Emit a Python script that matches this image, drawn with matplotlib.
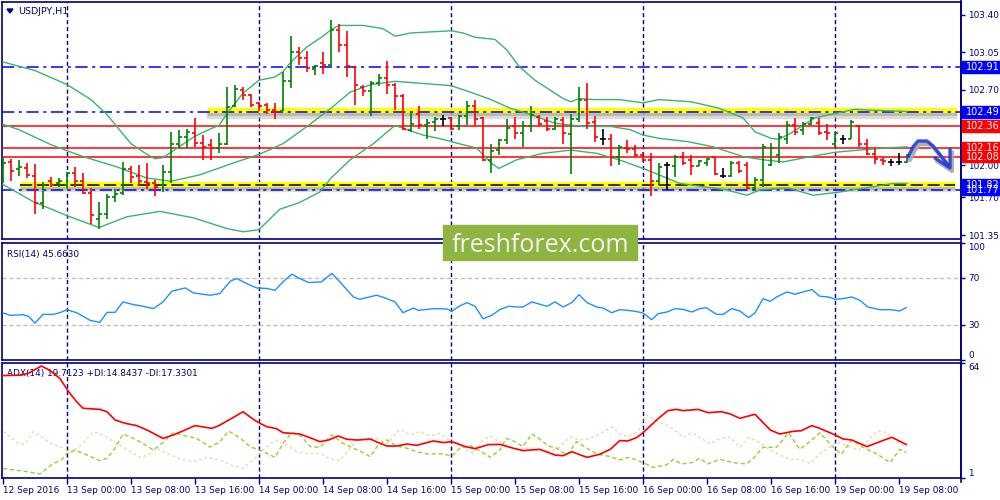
import matplotlib
matplotlib.use('Agg')
import matplotlib.pyplot as plt
from matplotlib.patches import Rectangle
from matplotlib.lines import Line2D
import numpy as np

# ---------------- data ----------------
bar_open = [101.95, 102.03, 101.96, 101.97, 101.90, 101.65, 101.85, 101.83, 101.82, 101.93,
            101.85, 101.74, 101.50, 101.55, 101.70, 101.74, 101.96, 101.90, 101.84, 101.83,
            101.82, 101.94, 102.20, 102.26, 102.30, 102.21, 102.19, 102.16, 102.20, 102.55,
            102.70, 102.65, 102.58, 102.56, 102.51, 102.50, 102.78, 103.05, 103.00, 102.89,
            102.95, 102.93, 103.26, 103.12, 102.91, 102.73, 102.69, 102.76, 102.81, 102.75,
            102.64, 102.33, 102.48, 102.37, 102.40, 102.43, 102.44, 102.36, 102.46, 102.55,
            102.44, 102.05, 102.14, 102.23, 102.36, 102.30, 102.36, 102.45, 102.41, 102.34,
            102.42, 102.29, 102.43, 102.61, 102.40, 102.24, 102.24, 102.08, 102.16, 102.15,
            102.09, 102.05, 101.85, 102.00, 101.99, 102.08, 102.05, 101.99, 102.02, 102.08,
            101.90, 101.90, 102.02, 102.00, 101.79, 101.86, 102.00, 102.09, 102.24, 102.37,
            102.33, 102.38, 102.39, 102.31, 102.20, 102.24, 102.24, 102.36, 102.20, 102.10,
            102.05, 102.03, 102.03, 102.03]
bar_high = [102.08, 102.06, 102.05, 102.02, 102.01, 101.84, 101.89, 101.88, 101.94, 101.98,
            101.93, 101.79, 101.66, 101.73, 101.78, 102.03, 101.99, 102.00, 102.02, 101.86,
            102.00, 102.31, 102.33, 102.34, 102.44, 102.28, 102.24, 102.30, 102.73, 102.75,
            102.73, 102.66, 102.59, 102.58, 102.58, 102.87, 103.20, 103.10, 103.06, 102.93,
            103.05, 103.35, 103.31, 103.25, 102.92, 102.75, 102.78, 102.85, 102.97, 102.76,
            102.66, 102.49, 102.55, 102.43, 102.45, 102.47, 102.45, 102.47, 102.60, 102.61,
            102.45, 102.20, 102.24, 102.43, 102.45, 102.41, 102.55, 102.47, 102.45, 102.45,
            102.45, 102.48, 102.73, 102.76, 102.46, 102.34, 102.29, 102.19, 102.23, 102.19,
            102.12, 102.11, 102.02, 102.03, 102.09, 102.12, 102.09, 102.05, 102.07, 102.08,
            101.97, 102.04, 102.04, 102.03, 101.89, 102.20, 102.21, 102.30, 102.41, 102.44,
            102.40, 102.45, 102.44, 102.38, 102.31, 102.28, 102.42, 102.37, 102.24, 102.16,
            102.08, 102.06, 102.11, 102.10]
bar_low = [101.83, 101.85, 101.90, 101.88, 101.55, 101.59, 101.80, 101.80, 101.79, 101.80,
           101.73, 101.45, 101.41, 101.50, 101.66, 101.72, 101.83, 101.82, 101.78, 101.71,
           101.75, 101.83, 102.16, 102.16, 102.17, 102.05, 102.05, 102.11, 102.19, 102.54,
           102.61, 102.54, 102.50, 102.48, 102.43, 102.50, 102.72, 102.93, 102.87, 102.84,
           102.85, 102.92, 103.05, 102.82, 102.56, 102.64, 102.46, 102.74, 102.66, 102.51,
           102.33, 102.31, 102.34, 102.24, 102.32, 102.36, 102.33, 102.33, 102.37, 102.36,
           102.04, 101.93, 102.09, 102.20, 102.24, 102.17, 102.31, 102.36, 102.32, 102.33,
           102.20, 101.92, 102.40, 102.34, 102.22, 102.19, 101.99, 102.00, 102.11, 102.08,
           102.03, 101.71, 101.82, 101.77, 101.89, 102.00, 101.91, 101.99, 101.99, 101.91,
           101.88, 101.89, 101.93, 101.78, 101.76, 101.80, 101.99, 102.02, 102.20, 102.28,
           102.28, 102.37, 102.28, 102.23, 102.17, 102.20, 102.24, 102.17, 102.09, 102.01,
           102.00, 101.99, 102.00, 102.02]
bar_close = [102.02, 101.95, 101.98, 101.91, 101.65, 101.82, 101.82, 101.85, 101.93, 101.85,
             101.74, 101.54, 101.55, 101.70, 101.73, 101.96, 101.89, 101.85, 101.83, 101.80,
             101.94, 102.20, 102.26, 102.31, 102.21, 102.17, 102.16, 102.20, 102.54, 102.71,
             102.65, 102.56, 102.55, 102.51, 102.49, 102.78, 103.05, 103.00, 102.90, 102.92,
             102.93, 103.26, 103.12, 102.92, 102.75, 102.69, 102.76, 102.81, 102.75, 102.64,
             102.34, 102.38, 102.37, 102.39, 102.43, 102.43, 102.34, 102.46, 102.55, 102.43,
             102.05, 102.13, 102.23, 102.35, 102.30, 102.36, 102.47, 102.38, 102.34, 102.43,
             102.30, 102.43, 102.61, 102.39, 102.26, 102.24, 102.08, 102.17, 102.15, 102.09,
             102.05, 101.85, 101.98, 102.00, 102.08, 102.02, 101.99, 102.04, 102.06, 101.92,
             101.90, 102.02, 101.95, 101.79, 101.86, 102.17, 102.16, 102.26, 102.37, 102.31,
             102.38, 102.44, 102.30, 102.30, 102.30, 102.24, 102.40, 102.20, 102.10, 102.06,
             102.04, 102.03, 102.03, 102.09]

bb_up_x = [0, 4, 8, 11, 13, 16, 18, 19, 20, 22, 24, 26, 27, 28, 30, 32, 34, 35, 36, 38, 40, 41,
           42, 45, 47.5, 49, 51, 53.5, 56, 57.5, 59, 61.5, 63, 64.5, 66.5, 70, 71, 72, 74, 77,
           80, 82, 86, 89.5, 92.5, 94, 96, 97, 98.5, 100, 101.5, 104, 106.5, 109, 113]
bb_up = [102.96, 102.88, 102.75, 102.61, 102.47, 102.20, 102.10, 102.06, 102.07, 102.17, 102.27,
         102.34, 102.37, 102.48, 102.67, 102.79, 102.82, 102.87, 102.96, 103.10, 103.20, 103.26,
         103.30, 103.30, 103.27, 103.20, 103.23, 103.24, 103.25, 103.23, 103.19, 103.17, 103.07,
         102.92, 102.79, 102.62, 102.59, 102.62, 102.61, 102.61, 102.58, 102.61, 102.59, 102.53,
         102.44, 102.31, 102.25, 102.24, 102.30, 102.37, 102.44, 102.48, 102.52, 102.51, 102.50]
bb_mid_x = [0, 2, 6, 10, 14, 18, 21, 24.6, 28.8, 32, 35, 38, 41, 43.4, 46, 49, 52.5, 56, 58.4,
            61, 63.4, 66, 69, 72.5, 76, 78.4, 80, 82, 85.5, 88.8, 92.5, 95, 97.5, 101, 104, 107,
            110.4, 113]
bb_mid = [102.38, 102.33, 102.19, 102.08, 101.99, 101.88, 101.85, 101.91, 102.02, 102.10, 102.20,
          102.36, 102.53, 102.68, 102.75, 102.78, 102.76, 102.74, 102.68, 102.61, 102.53, 102.47,
          102.39, 102.36, 102.36, 102.33, 102.28, 102.25, 102.22, 102.17, 102.08, 102.05, 102.03,
          102.08, 102.12, 102.14, 102.16, 102.17]
bb_low_x = [0, 3.8, 8, 12, 15.5, 19.6, 23.8, 28, 30, 32, 34.6, 37, 39.6, 41, 43.4, 46.3, 49,
            50.5, 52.5, 55, 57.5, 59.2, 61, 62, 64.2, 67.5, 71, 74.2, 77, 80, 82, 84.6, 87.5,
            90.4, 93, 94.6, 98, 101.3, 104.6, 108, 111.3, 113]
bb_low = [101.82, 101.66, 101.53, 101.42, 101.52, 101.57, 101.51, 101.41, 101.38, 101.40, 101.59,
          101.65, 101.75, 101.88, 102.05, 102.20, 102.37, 102.33, 102.28, 102.24, 102.19, 102.16,
          102.02, 101.97, 102.05, 102.11, 102.14, 102.11, 102.05, 101.97, 101.91, 101.83, 101.80,
          101.77, 101.72, 101.77, 101.79, 101.72, 101.75, 101.79, 101.83, 101.83]

rsi_x = [0, 0.9, 2.5, 3.2, 4, 5, 6.3, 7.1, 8, 9.2, 10.9, 12.1, 13, 14, 15, 16.3, 17.5, 18.8, 20,
         21.1, 22.8, 23.8, 25.9, 27.1, 28.4, 29.2, 30.9, 31.7, 33, 34, 35, 36.1, 37.1, 38.2, 39.8,
         41.1, 42.1, 43.8, 44.6, 46.7, 48, 49, 50, 51.3, 51.9, 53.8, 55.5, 56.1, 57, 58, 59, 60,
         61.1, 62.1, 63.2, 64.2, 65, 66.1, 67.1, 68, 69, 70, 71.1, 72, 73, 74.2, 75, 76.1, 77.1,
         78.1, 79, 80, 81.1, 81.9, 83, 84, 85, 86.1, 87.1, 87.9, 89.2, 90, 91.1, 92.1, 93.2, 94,
         95, 95.9, 96.7, 98, 99, 100, 101.1, 102.1, 103.2, 104, 105, 106.1, 107.1, 108.1, 109.6,
         110.9, 112.1, 112.9]
rsi_v = [40.5, 38.5, 39.0, 37.6, 31.9, 39.3, 39.3, 40.7, 43.3, 40.7, 34.2, 32.5, 41.0, 41.0, 49.9,
         47.6, 46.2, 44.2, 49.9, 59.0, 61.8, 57.5, 55.6, 57.0, 67.5, 69.8, 64.1, 61.8, 61.3, 59.8,
         67.0, 73.5, 69.8, 66.4, 66.9, 74.1, 67.0, 54.1, 52.1, 55.6, 52.7, 49.9, 40.7, 44.7, 42.7,
         44.2, 43.9, 41.9, 46.2, 49.3, 46.2, 35.6, 38.5, 43.3, 46.2, 45.6, 45.6, 49.9, 47.9, 46.2,
         49.9, 45.6, 49.3, 56.1, 49.3, 45.6, 44.7, 40.7, 43.3, 42.7, 41.9, 40.5, 34.8, 39.9, 41.3,
         44.2, 43.6, 41.3, 44.2, 45.0, 39.3, 39.3, 44.2, 42.2, 36.5, 40.5, 52.7, 50.4, 54.1, 58.4,
         56.4, 58.4, 60.4, 54.7, 54.1, 52.1, 52.7, 54.1, 51.3, 45.6, 43.3, 43.3, 42.2, 45.0]

adx_x = [0, 2.3, 3.2, 4.8, 5.9, 7.1, 8.2, 9.2, 10, 12.1, 13, 14, 15.25, 16.7, 18, 20, 21.3, 22.5,
         24, 26.1, 26.9, 28.8, 30, 31.3, 32.1, 33, 34.2, 35, 37.1, 38.6, 39.6, 40.7, 41.9, 43,
         44.4, 45.9, 46.9, 48, 49.2, 50.5, 51.7, 53.8, 55, 56.1, 57.8, 59, 60.7, 62.1, 63.8, 65,
         67.1, 69, 70, 71.1, 73, 74.6, 75.9, 77.1, 78.1, 79.2, 80, 81.7, 83.1, 84.2, 85, 86.9,
         88.1, 89.8, 90.9, 92.1, 94, 95.9, 97.1, 98.8, 99.8, 101.1, 102.1, 104, 105, 106.1, 108,
         109.3, 111.1, 112.9]
adx_v = [57.1, 57.4, 58.4, 62.4, 59.8, 55.6, 48.3, 42.8, 39.2, 38.6, 37.3, 32.8, 31.0, 29.7, 27.3,
         22.7, 24.6, 26.8, 29.7, 28.2, 29.5, 34.2, 37.3, 33.1, 31.0, 29.1, 28.0, 25.8, 25.1, 22.7,
         20.9, 21.8, 24.0, 22.2, 21.8, 22.4, 20.4, 18.5, 18.5, 19.6, 18.9, 21.3, 20.4, 20.9, 18.2,
         17.1, 19.3, 19.4, 17.3, 16.0, 16.7, 13.6, 13.2, 15.4, 12.3, 14.0, 16.7, 21.5, 21.3, 23.1,
         25.8, 32.8, 37.9, 38.6, 37.9, 38.6, 36.8, 37.3, 36.1, 33.7, 35.9, 27.3, 25.1, 26.6, 26.9,
         29.7, 28.2, 24.6, 22.4, 21.8, 18.2, 20.4, 23.3, 19.4]
pdi_x = [0, 1.3, 3, 4.6, 5.5, 6.3, 7.3, 8, 9, 10.5, 12.1, 13, 14, 15, 16.3, 17.5, 18.8, 20, 21.3,
         22.3, 24.2, 25.9, 27.1, 28.2, 29.6, 30.9, 32.1, 33, 34, 35, 36.1, 37.1, 38.4, 39.6, 41.1,
         42.5, 43.8, 44.8, 45.9, 46.9, 48, 49.2, 50.5, 51.7, 53, 55, 56.1, 57.1, 58.4, 59.6, 60.9,
         62.1, 62.9, 64, 65, 66.1, 67.1, 68.2, 69.2, 70.5, 71.7, 73, 74.2, 75.9, 77.1, 78.1, 79.2,
         80.2, 81.3, 82.9, 83.8, 84.8, 86.1, 87.1, 88.1, 89.6, 91.3, 92.9, 93.8, 95, 96.7, 98.2,
         99.6, 101.1, 102.1, 103.8, 104.8, 106.1, 107.5, 109.3, 110.9, 112.1, 112.9]
pdi_v = [6.3, 5.4, 4.5, 3.2, 6.3, 9.0, 10.9, 14.5, 16.3, 13.6, 10.5, 11.8, 17.3, 25.1, 22.7, 20.0,
         16.3, 20.4, 25.8, 24.6, 22.7, 17.9, 20.8, 26.7, 23.0, 18.1, 16.3, 14.5, 12.3, 20.0, 25.8,
         24.6, 18.2, 17.8, 24.6, 20.0, 17.3, 15.4, 12.7, 19.1, 21.9, 18.5, 17.3, 15.4, 14.2, 14.2,
         13.1, 17.3, 18.7, 16.0, 12.3, 16.3, 22.7, 20.9, 18.2, 25.1, 22.2, 18.5, 17.3, 13.6, 20.9,
         17.3, 14.2, 12.7, 10.9, 12.3, 10.9, 9.0, 6.8, 8.1, 11.2, 8.7, 9.4, 11.8, 8.7, 11.2, 9.4,
         8.7, 11.8, 17.8, 17.8, 25.8, 16.7, 21.8, 25.8, 17.8, 14.0, 21.8, 17.8, 14.0, 9.4, 16.7,
         14.9]
mdi_x = [0, 0.9, 1.9, 2.75, 3.8, 4.8, 5.9, 7.3, 8.4, 9.8, 11.3, 12.5, 13.8, 15.5, 17.1, 18.2,
         19.2, 20.9, 22.5, 23.8, 25.5, 27.1, 28.8, 30, 31.3, 32.5, 34, 35.5, 36.7, 38, 39.6, 40.7,
         42.1, 43.2, 44.4, 45.5, 46.7, 48, 49.6, 50.9, 52.1, 53.4, 54.6, 55.7, 56.7, 58, 58.8,
         59.8, 60.9, 62.1, 63.4, 64.6, 65.9, 67.1, 68.4, 69.4, 70.9, 72.1, 73.4, 74.6, 76.1, 77.1,
         78.1, 79.4, 80.5, 81.7, 83, 84.2, 85, 86.1, 87.1, 88.4, 89.6, 90.9, 92.1, 93.2, 94.4,
         95.9, 97.1, 98.4, 99.6, 100.9, 102.1, 103.2, 104.2, 105.5, 107, 108, 109.3, 110.5, 111.5,
         112.9]
mdi_v = [26.4, 23.6, 20.0, 19.6, 26.4, 23.6, 20.0, 17.8, 14.9, 19.1, 26.4, 24.6, 20.9, 16.7, 12.3,
         13.6, 17.3, 13.6, 10.9, 10.0, 12.3, 10.9, 7.6, 6.3, 10.9, 16.3, 21.8, 19.1, 15.4, 14.5,
         14.5, 11.8, 10.5, 16.3, 22.7, 21.3, 22.7, 20.0, 27.7, 24.6, 26.4, 24.0, 25.5, 21.8, 20.0,
         16.3, 14.5, 20.9, 24.0, 20.9, 17.8, 16.3, 17.8, 16.0, 15.4, 17.3, 23.6, 21.8, 22.7, 25.1,
         29.1, 25.1, 23.6, 26.4, 35.5, 31.9, 30.0, 26.4, 23.3, 25.8, 23.3, 19.6, 22.7, 23.3, 17.8,
         23.3, 20.9, 16.3, 13.6, 11.2, 11.2, 9.0, 14.2, 17.3, 20.9, 18.5, 16.3, 20.9, 26.9, 25.8,
         21.8, 17.8]

time_labels = ["12 Sep 2016", "13 Sep 00:00", "13 Sep 08:00", "13 Sep 16:00", "14 Sep 00:00",
               "14 Sep 08:00", "14 Sep 16:00", "15 Sep 00:00", "15 Sep 08:00", "15 Sep 16:00",
               "16 Sep 00:00", "16 Sep 08:00", "16 Sep 16:00", "19 Sep 00:00", "19 Sep 08:00"]
time_label_idx = [0, 8, 16, 24, 32, 40, 48, 56, 64, 72, 80, 88, 96, 104, 112]
day_sep_idx = [8, 32, 56, 80, 104]
price_ticks = [103.40, 103.05, 102.70, 102.35, 102.00, 101.70, 101.35]
red_levels = [102.36, 102.16, 102.08]
blue_levels = [102.91, 102.49, 101.77]
black_level = 101.82
rsi_label = "RSI(14) 45.6630"
adx_label = "ADX(14) 19.7123 +DI:14.8437 -DI:17.3301"

# ---------------- figure ----------------
W, H = 1000, 500
fig = plt.figure(figsize=(10, 5), dpi=100)
fig.patch.set_facecolor('white')
NAVY = '#000080'
FS = 6.4
plt.rcParams['font.family'] = ['DejaVu Sans']


def ax_px(x0, y0, x1, y1):
    return fig.add_axes([x0 / W, 1 - y1 / H, (x1 - x0) / W, (y1 - y0) / H])


def fx(x):
    return x / W


def fy(y):
    return 1 - y / H


ax1 = ax_px(2, 2, 961, 239)
ax2 = ax_px(2, 243, 961, 360)
ax3 = ax_px(2, 363, 961, 478)
XL = (-0.125, 119.75)
P_LO, P_HI = 101.313, 103.518

for ax in (ax1, ax2, ax3):
    ax.set_xlim(*XL)
    ax.set_facecolor('white')
    for s in ax.spines.values():
        s.set_color(NAVY)
        s.set_linewidth(1.2)
    ax.yaxis.tick_right()
    ax.tick_params(axis='y', direction='out', length=3, width=1, color=NAVY,
                   labelcolor=NAVY, labelsize=FS, pad=2)
    for d in day_sep_idx:
        ax.axvline(d, color=NAVY, lw=1, ls=(0, (3, 2)), zorder=1)

ax1.set_xticks([])
ax2.set_xticks([])

# ---------------- price panel ----------------
ax1.set_ylim(P_LO, P_HI)
ax1.set_yticks(price_ticks)
ax1.set_yticklabels([f"{t:.2f}" for t in price_ticks])

idx = np.arange(len(bar_open))
o = np.array(bar_open); h = np.array(bar_high); l = np.array(bar_low); c = np.array(bar_close)
cols = np.where(c > o, '#008000', np.where(c < o, '#ff0000', '#000000'))

# horizontal levels (yellow highlighted with grey shadow)
for lvl, x0, x1 in [(102.51, 25.5, 119.25), (101.825, 2.1, 119.0)]:
    ax1.plot([x0, x1], [lvl - 0.05, lvl - 0.05], color='#b8b8b8', lw=4.5, alpha=0.5,
             solid_capstyle='butt', zorder=2)
    ax1.plot([x0, x1], [lvl - 0.035, lvl - 0.035], color='#909090', lw=2.2, alpha=0.45,
             solid_capstyle='butt', zorder=2)
    ax1.plot([x0, x1], [lvl, lvl], color='#ffff00', lw=3.8, solid_capstyle='butt', zorder=2)
for lvl in blue_levels:
    ax1.axhline(lvl, color='#0000ff', lw=1.1, ls=(0, (8, 3, 2, 3)), zorder=3)
for lvl in red_levels:
    ax1.axhline(lvl, color='#ff0000', lw=1.1, zorder=3)
ax1.plot([2.1, 119.0], [black_level, black_level], color='#000000', lw=1.1,
         ls=(0, (8, 3)), zorder=3)

# Bollinger bands
for bx, by in [(bb_up_x, bb_up), (bb_mid_x, bb_mid), (bb_low_x, bb_low)]:
    ax1.plot(bx, by, color='#3cb371', lw=1, zorder=4)

# OHLC bars
ax1.vlines(idx, l, h, colors=cols, lw=1.2, zorder=5)
ax1.hlines(o, idx - 0.4, idx, colors=cols, lw=1.2, zorder=5)
ax1.hlines(c, idx, idx + 0.4, colors=cols, lw=1.2, zorder=5)

fig.text(fx(18), fy(11), "USDJPY,H1", color=NAVY, fontsize=FS + 0.4, va='center', ha='left')
fig.patches.append(plt.Polygon([[fx(7), fy(9)], [fx(13), fy(9)], [fx(10), fy(13)]],
                               closed=True, transform=fig.transFigure, color=NAVY))


def py(p):
    return 2 + (P_HI - p) / (P_HI - P_LO) * 237


# right axis labels (boxes)
def box(p_list, color, y0, y1):
    fig.patches.append(Rectangle((fx(962), fy(y1)), fx(38), (y1 - y0) / H,
                                 transform=fig.transFigure, color=color, zorder=10))
    for p in p_list:
        fig.text(fx(966), fy(py(p)), f"{p:.2f}", color='white', fontsize=FS + 0.6,
                 va='center', ha='left', zorder=11)


box([101.77], '#0000ff', py(101.77) - 5, py(101.77) + 5.5)
box([black_level], '#0000ff', py(black_level) - 6, py(black_level) + 5.5)
box([102.91], '#0000ff', py(102.91) - 6, py(102.91) + 6)
box([102.49], '#0000ff', py(102.49) - 6, py(102.49) + 6)
box([102.36], '#ff0000', py(102.36) - 6, py(102.36) + 6)
box([102.16, 102.08], '#ff0000', py(102.16) - 6, py(102.08) + 5.5)

# forecast arrow (pixel path)
arrow_pts = [(908, 157), (913, 147), (918, 141), (927, 141), (933, 146), (941, 156), (948, 165)]
head = [(935, 158), (950, 168), (950, 149)]
for dx, dy, col, lw in [(2, 3, '#a8a8a8', 3.0), (0, 0, '#1f3fd8', 2.4)]:
    fig.lines.append(Line2D([fx(x + dx) for x, _ in arrow_pts], [fy(y + dy) for _, y in arrow_pts],
                            transform=fig.transFigure, color=col, lw=lw, zorder=8,
                            solid_capstyle='round', solid_joinstyle='round', alpha=0.9))
    fig.lines.append(Line2D([fx(x + dx) for x, _ in head], [fy(y + dy) for _, y in head],
                            transform=fig.transFigure, color=col, lw=lw, zorder=8,
                            solid_capstyle='round', solid_joinstyle='round', alpha=0.9))

# ---------------- RSI panel ----------------
ax2.set_ylim(0.5, 100)
ax2.set_yticks([100, 70, 30, 0.5])
ax2.set_yticklabels(['100', '70', '30', '0'])
for lb, va in zip(ax2.get_yticklabels(), ['top', 'center', 'center', 'bottom']):
    lb.set_va(va)
for lvl in (70, 30):
    ax2.axhline(lvl, color='#c0c0c0', lw=1, ls=(0, (3, 2)), zorder=1)
ax2.plot(rsi_x, rsi_v, color='#1e90ff', lw=1, zorder=4)
ax2.text(0.005, 0.9, rsi_label, transform=ax2.transAxes, color=NAVY, fontsize=FS, va='center')

# ---------------- ADX panel ----------------
ax3.set_ylim(1, 64)
ax3.set_yticks([64, 1])
ax3.set_yticklabels(['64', '1'])
for lb, va in zip(ax3.get_yticklabels(), ['top', 'bottom']):
    lb.set_va(va)
ax3.plot(mdi_x, mdi_v, color='#f5d4a6', lw=1, ls=(0, (2, 2)), zorder=3)
ax3.plot(pdi_x, pdi_v, color='#9acd32', lw=1, ls=(0, (3, 2)), zorder=3)
ax3.plot(adx_x, adx_v, color='#ff0000', lw=1.2, zorder=4)
ax3.text(0.005, 0.91, adx_label, transform=ax3.transAxes, color=NAVY, fontsize=FS, va='center')
ax3.set_xticks(time_label_idx)
ax3.set_xticklabels(time_labels)
ax3.tick_params(axis='x', direction='out', length=4, width=1, color=NAVY, labelcolor=NAVY,
                labelsize=FS, pad=2)
for lb in ax3.get_xticklabels():
    lb.set_ha('left')

# right axis line across the full height
fig.lines.append(Line2D([fx(961), fx(961)], [fy(0), fy(482)], transform=fig.transFigure,
                        color=NAVY, lw=1.2))

# watermark
fig.patches.append(Rectangle((fx(443), fy(260)), fx(194), 35 / H, transform=fig.transFigure,
                             color='#8db540', zorder=20))
fig.text(fx(540), fy(252), "freshforex.com", color='#f4f4f4', fontsize=18,
         family=['Open Sans', 'DejaVu Sans'], ha='center', va='baseline', zorder=21)

fig.savefig('out.png', dpi=100, facecolor='white')
